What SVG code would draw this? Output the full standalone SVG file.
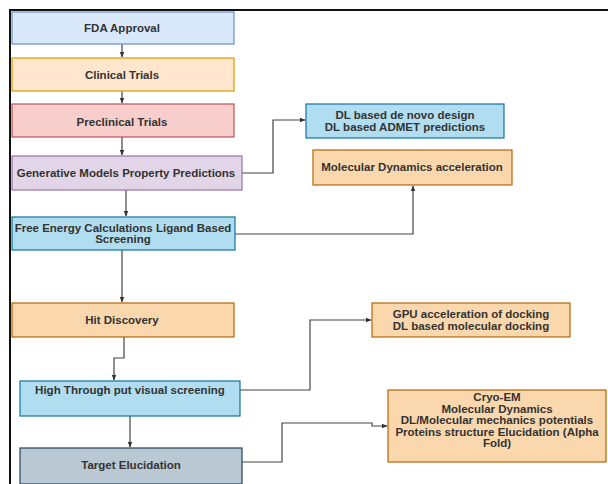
<svg xmlns="http://www.w3.org/2000/svg" width="608" height="484" viewBox="0 0 608 484">
<style>
.t{font-family:"Liberation Sans",Arial,sans-serif;font-size:11.5px;font-weight:bold;fill:#333;text-anchor:middle}
.c{fill:none;stroke:#444;stroke-width:1.2}
rect{stroke-width:1.2}
.blue{fill:#dae8fc;stroke:#6c8ebf}
.peach{fill:#ffe6cc;stroke:#d79b00}
.red{fill:#f8cecc;stroke:#b85450}
.purple{fill:#e1d5e7;stroke:#9673a6}
.cyan{fill:#b1ddf0;stroke:#10739e}
.orange{fill:#fad7ac;stroke:#b46504}
.grey{fill:#bac8d3;stroke:#23445d}
</style>
<defs>
<marker id="ah" viewBox="0 0 10 10" refX="9" refY="5" markerWidth="5" markerHeight="5" orient="auto">
<path d="M0,1 L10,5 L0,9 z" fill="#333"/>
</marker>
</defs>
<rect width="608" height="484" fill="#fff" stroke="none"/>
<path d="M10,484 V10 H608" fill="none" stroke="#111" stroke-width="2"/>
<g id="connectors">
<path class="c" d="M122,44 V57" marker-end="url(#ah)"/>
<path class="c" d="M122,91 V103" marker-end="url(#ah)"/>
<path class="c" d="M122,137 V155" marker-end="url(#ah)"/>
<path class="c" d="M126,190 V216" marker-end="url(#ah)"/>
<path class="c" d="M122,250 V302" marker-end="url(#ah)"/>
<path class="c" d="M124,337 V358 H114 V380" marker-end="url(#ah)"/>
<path class="c" d="M130,416 V447" marker-end="url(#ah)"/>
<path class="c" d="M242,173 H273 V120 H305" marker-end="url(#ah)"/>
<path class="c" d="M235,234 H413 V186" marker-end="url(#ah)"/>
<path class="c" d="M240,390 H310 V320 H371" marker-end="url(#ah)"/>
<path class="c" d="M242,462 H282 V423 H372 V426 H387" marker-end="url(#ah)"/>
</g>
<g id="fda"><rect class="blue" x="12" y="12" width="222" height="32"/><text class="t" x="122" y="32">FDA Approval</text></g>
<g id="clinical"><rect class="peach" x="12" y="58" width="222" height="33"/><text class="t" x="122" y="78.5">Clinical Trials</text></g>
<g id="preclinical"><rect class="red" x="12" y="104" width="222" height="33"/><text class="t" x="122" y="125.5">Preclinical Trials</text></g>
<g id="generative"><rect class="purple" x="12" y="156" width="230" height="34"/><text class="t" x="126" y="177">Generative Models Property Predictions</text></g>
<g id="freeenergy"><rect class="cyan" x="12" y="217" width="223" height="33"/><text class="t" x="123" y="231.5">Free Energy Calculations Ligand Based</text><text class="t" x="123" y="243">Screening</text></g>
<g id="hit"><rect class="orange" x="12" y="303" width="222" height="34"/><text class="t" x="122" y="324">Hit Discovery</text></g>
<g id="hts"><rect class="cyan" x="20" y="381" width="220" height="35"/><text class="t" x="130" y="394">High Through put visual screening</text></g>
<g id="target"><rect class="grey" x="20" y="448" width="222" height="36"/><text class="t" x="131" y="469">Target Elucidation</text></g>
<g id="dl"><rect class="cyan" x="306" y="104" width="198" height="34"/><text class="t" x="405" y="119">DL based de novo design</text><text class="t" x="405" y="131">DL based ADMET predictions</text></g>
<g id="md"><rect class="orange" x="313" y="150" width="199" height="35"/><text class="t" x="412" y="171">Molecular Dynamics acceleration</text></g>
<g id="gpu"><rect class="orange" x="372" y="303" width="198" height="34"/><text class="t" x="471" y="318">GPU acceleration of docking</text><text class="t" x="471" y="330">DL based molecular docking</text></g>
<g id="cryo"><rect class="orange" x="388" y="390" width="218" height="72"/>
<text class="t" x="497" y="401">Cryo-EM</text>
<text class="t" x="497" y="412.5">Molecular Dynamics</text>
<text class="t" x="497" y="424">DL/Molecular mechanics potentials</text>
<text class="t" x="497" y="435.5">Proteins structure Elucidation (Alpha</text>
<text class="t" x="497" y="447">Fold)</text></g>
</svg>
